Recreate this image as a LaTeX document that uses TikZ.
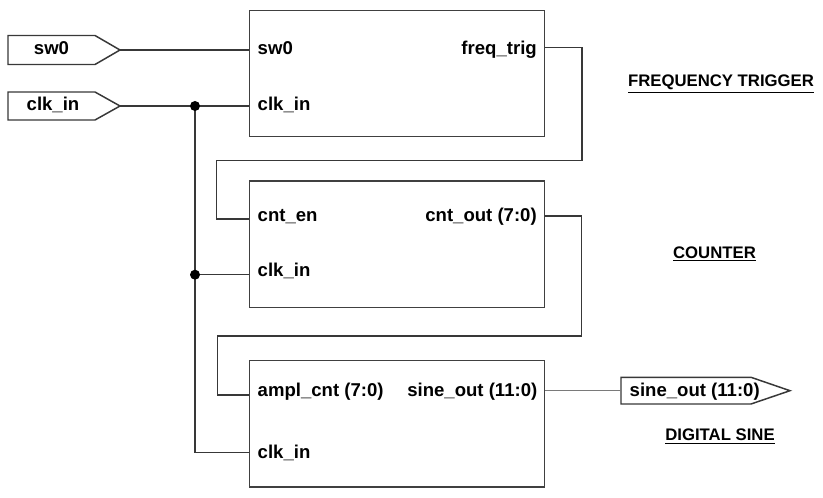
\documentclass[tikz,border=0pt]{standalone}
\usepackage{fontspec}
\setmainfont{Liberation Sans}
\usetikzlibrary{calc}

\begin{document}
\begin{tikzpicture}[x=0.025cm, y=-0.025cm, line width=1.05pt,
	block/.style={draw=black!75, line width=1.1pt, minimum width=7.375cm, minimum height=3.16cm, inner sep=0pt},
	port/.style={font=\fontsize{13.2}{15}\selectfont\bfseries, inner sep=0pt},
	title/.style={font=\fontsize{11.9}{14}\selectfont\bfseries, inner sep=0pt},
	wire/.style={draw=black!78},
	pinbox/.style={draw=black!78, fill=white},
	junction/.style={circle, fill=black, inner sep=0pt, minimum size=0.25cm}]
	\useasboundingbox (0,0) rectangle (823,498);
	% blocks
	\node[block] (trig) at (397,73.5) {};
	\node[block] (cnt) at (397,244.2) {};
	\node[block] (sine) at (397,423.7) {};
	\node[port, anchor=base west] (trig-sw0) at (257,55) {sw0};
	\node[port, anchor=base west] (trig-clk) at (257,110.5) {clk\_in};
	\node[port, anchor=base east] (trig-out) at (537.5,55) {freq\_trig};
	\node[port, anchor=base west] (cnt-en) at (257,221.5) {cnt\_en};
	\node[port, anchor=base west] (cnt-clk) at (257,277) {clk\_in};
	\node[port, anchor=base east] (cnt-out) at (537.5,221.5) {cnt\_out (7:0)};
	\node[port, anchor=base west] (sine-in) at (257,396.7) {ampl\_cnt (7:0)};
	\node[port, anchor=base west] (sine-clk) at (257,458) {clk\_in};
	\node[port, anchor=base east] (sine-out) at (538,396.7) {sine\_out (11:0)};
	% titles
	\node[title, anchor=base] (trig-title) at (721,87) {\underline{FREQUENCY TRIGGER}};
	\node[title, anchor=base] (cnt-title) at (714.5,258.5) {\underline{COUNTER}};
	\node[title, anchor=base] (sine-title) at (720,441) {\underline{DIGITAL SINE}};
	% pins
	\draw[pinbox] (8,35.5) -- (95,35.5) -- (120,50) -- (95,64.5) -- (8,64.5) -- cycle;
	\coordinate (sw0-tip) at (120,50);
	\node[port, anchor=base] (sw0-pin) at (51.5,55) {sw0};
	\draw[pinbox] (8,92) -- (95,92) -- (120,106) -- (95,120) -- (8,120) -- cycle;
	\coordinate (clk-tip) at (120,106);
	\node[port, anchor=base] (clk-pin) at (53,110.5) {clk\_in};
	\draw[pinbox] (621,377.3) -- (751,377.3) -- (790,390.7) -- (751,404) -- (621,404) -- cycle;
	\coordinate (sineout-tail) at (621,390.7);
	\node[port, anchor=base west] (sineout-pin) at (629,396.7) {sine\_out (11:0)};
	% wires
	\draw[wire] (sw0-tip) -- (trig.west |- sw0-tip);
	\draw[wire] (clk-tip) -- (trig.west |- clk-tip);
	\draw[wire] (trig.east |- 0,47.7) -| (582,160.5) -| (216.5,219) -- (cnt.west |- 0,219);
	\draw[wire] (cnt.east |- 0,216) -| (581.7,336) -| (217.3,395) -- (sine.west |- 0,395);
	\draw[draw=black!52] (sine.east |- sineout-tail) -- (sineout-tail);
	\coordinate (j1) at (195,106);
	\coordinate (j2) at (195,274.7);
	\draw[wire] (j1) |- (sine.west |- 0,452.7);
	\draw[wire] (j2) -- (cnt.west |- 0,274.7);
	\node[junction] (j1-dot) at (j1) {};
	\node[junction] (j2-dot) at (j2) {};
\end{tikzpicture}
\end{document}
